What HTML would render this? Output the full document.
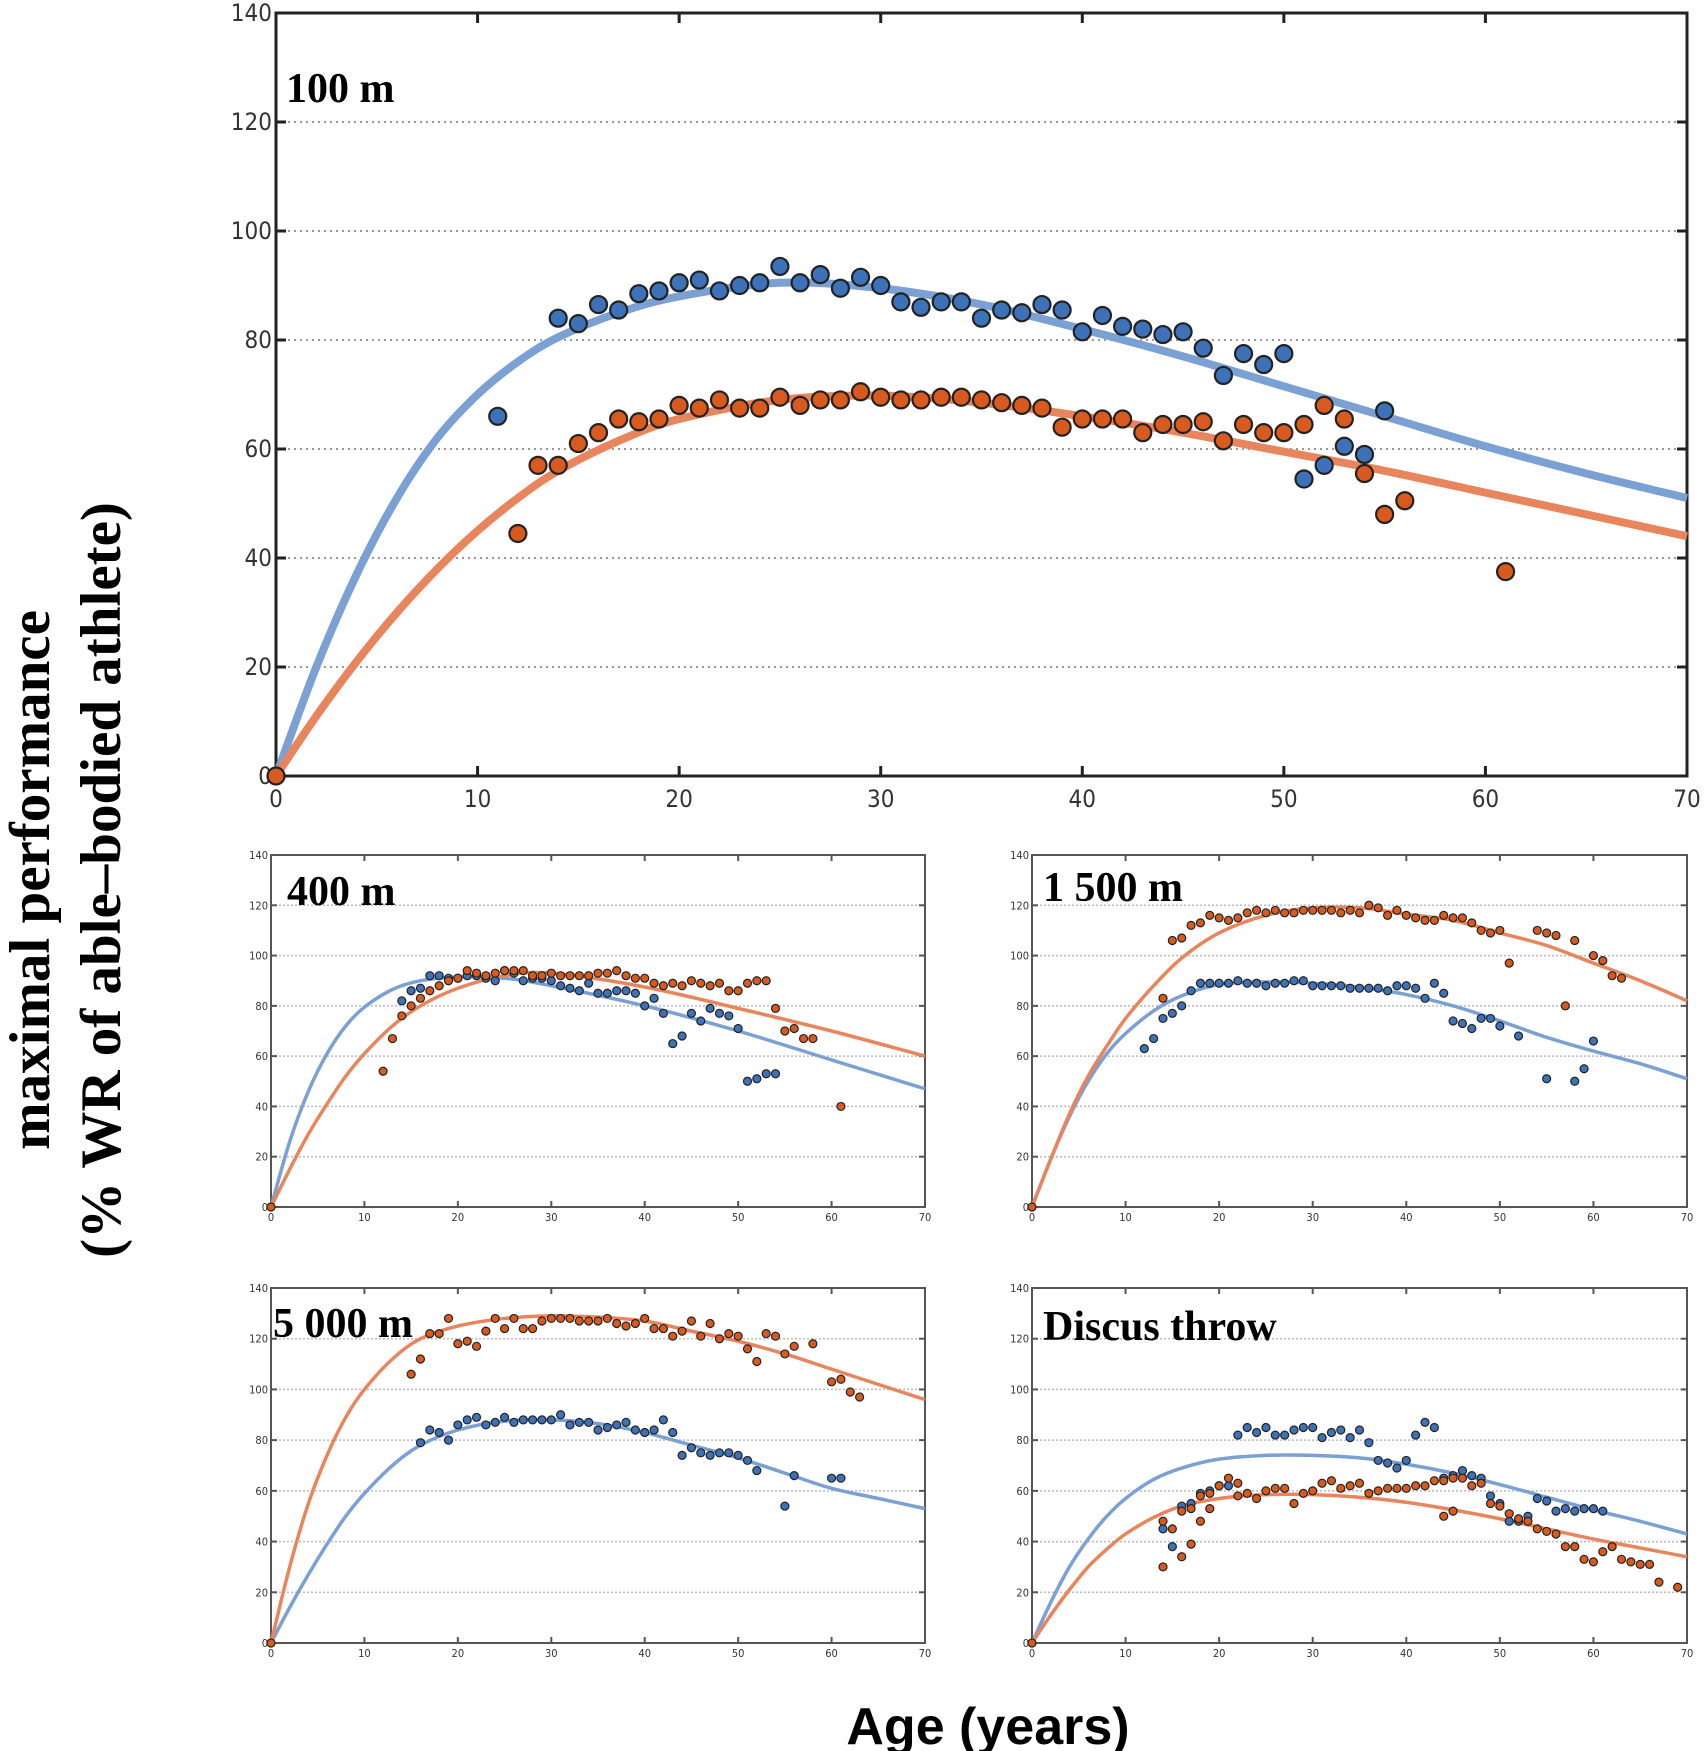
<!DOCTYPE html>
<html><head><meta charset="utf-8"><style>
body{margin:0;background:#fff;width:1705px;height:1751px;overflow:hidden}
svg{display:block}
</style></head><body>
<svg id="s" width="1705" height="1751" xmlns="http://www.w3.org/2000/svg" font-family="'DejaVu Sans Condensed','Liberation Sans',sans-serif">
<text transform="translate(49,880) rotate(-90)" text-anchor="middle" font-family="'Liberation Serif',serif" font-weight="bold" font-size="57">maximal  performance</text>
<text transform="translate(120,880) rotate(-90)" text-anchor="middle" font-family="'Liberation Serif',serif" font-weight="bold" font-size="57">(% WR of able–bodied athlete)</text>
<text x="988" y="1744" text-anchor="middle" font-family="'Liberation Sans',sans-serif" font-weight="bold" font-size="52">Age (years)</text>
</svg>
<script>
const S=document.getElementById('s');const NS='http://www.w3.org/2000/svg';
function el(t,a,txt){const e=document.createElementNS(NS,t);for(const k in a)e.setAttribute(k,a[k]);if(txt!=null)e.textContent=txt;S.appendChild(e);return e;}
function P(s){return s.trim().split(/\)\s*,?\s*\(/).map(p=>p.replace(/[()]/g,'').split(',').map(Number));}
function smooth(pts){let d='M'+pts[0][0]+','+pts[0][1];for(let i=0;i<pts.length-1;i++){const p0=pts[Math.max(0,i-1)],p1=pts[i],p2=pts[i+1],p3=pts[Math.min(pts.length-1,i+2)];const c1=[p1[0]+(p2[0]-p0[0])/6,p1[1]+(p2[1]-p0[1])/6],c2=[p2[0]-(p3[0]-p1[0])/6,p2[1]-(p3[1]-p1[1])/6];d+=`C${c1[0]},${c1[1]} ${c2[0]},${c2[1]} ${p2[0]},${p2[1]}`;}return d;}
function panel(o){const {x0,x1,y0,y1}=o;const X=v=>x0+(x1-x0)*v/70,Y=v=>y1-(y1-y0)*v/140;
 const big=o.big;
 for(let g=20;g<=120;g+=20)el('line',{x1:x0,x2:x1,y1:Y(g),y2:Y(g),stroke:big?'#999':'#bbb','stroke-width':big?2:1.5,'stroke-dasharray':big?'2,4':'2,2'});
 el('rect',{x:x0,y:y0,width:x1-x0,height:y1-y0,fill:'none',stroke:big?'#222':'#555','stroke-width':big?3:2});
 const tl=big?10:6;
 for(let t=10;t<70;t+=10){el('line',{x1:X(t),x2:X(t),y1:y1,y2:y1-tl,stroke:big?'#222':'#555','stroke-width':big?3:2});el('line',{x1:X(t),x2:X(t),y1:y0,y2:y0+tl,stroke:big?'#222':'#555','stroke-width':big?3:2});}
 for(let t=0;t<=70;t+=10)el('text',{x:X(t),y:y1+(big?31:14),'text-anchor':'middle','font-size':big?24:11,fill:'#333'},t);
 for(let g=0;g<=140;g+=20){el('line',{x1:x0,x2:x0+tl,y1:Y(g),y2:Y(g),stroke:big?'#222':'#555','stroke-width':big?3:2});el('line',{x1:x1,x2:x1-tl,y1:Y(g),y2:Y(g),stroke:big?'#222':'#555','stroke-width':big?3:2});el('text',{x:x0-(big?4:3),y:Y(g)+(big?8:4),'text-anchor':'end','font-size':big?24:11,fill:'#333'},g);}
 const cw=big?8:3.5;
 el('path',{d:smooth(P(o.bc).map(p=>[X(p[0]),Y(p[1])])),fill:'none',stroke:'#7aa0d4','stroke-width':cw});
 el('path',{d:smooth(P(o.oc).map(p=>[X(p[0]),Y(p[1])])),fill:'none',stroke:'#e8855c','stroke-width':cw});
 const r=big?8.5:4,sw=big?2.2:1.2;
 P(o.bd).forEach(p=>el('circle',{cx:X(p[0]),cy:Y(p[1]),r:r,fill:'#3e72b8',stroke:'#222','stroke-width':sw}));
 P(o.od).forEach(p=>el('circle',{cx:X(p[0]),cy:Y(p[1]),r:r,fill:'#d85a1e',stroke:'#222','stroke-width':sw}));
 el('circle',{cx:X(0),cy:Y(0),r:r,fill:'#d85a1e',stroke:'#222','stroke-width':sw});
 el('text',{x:o.tx,y:o.ty,'font-family':"'Liberation Serif',serif",'font-weight':'bold','font-size':42},o.t);
}
panel({big:1,x0:276,x1:1687,y0:13,y1:776,t:'100 m',tx:286,ty:102,
bc:'(0,0),(2,20),(4,37),(6,51),(8,62),(10,70),(12,76),(14,80.5),(17,85),(20,88),(25,90.5),(30,89.5),(35,86.5),(40,82),(45,77),(50,71.5),(55,66),(60,60.5),(65,55.5),(70,51)',
oc:'(0,0),(2,11),(4,21),(6,30),(8,38),(10,45),(12,51),(14,56),(17,61.5),(20,65.5),(25,69),(30,69.8),(35,68.5),(40,66),(45,63),(50,59.5),(55,56),(60,52),(65,48),(70,44)',
bd:'(11,66),(14,84),(15,83),(16,86.5),(17,85.5),(18,88.5),(19,89),(20,90.5),(21,91),(22,89),(23,90),(24,90.5),(25,93.5),(26,90.5),(27,92),(28,89.5),(29,91.5),(30,90),(31,87),(32,86),(33,87),(34,87),(35,84),(36,85.5),(37,85),(38,86.5),(39,85.5),(40,81.5),(41,84.5),(42,82.5),(43,82),(44,81),(45,81.5),(46,78.5),(47,73.5),(48,77.5),(49,75.5),(50,77.5),(51,54.5),(52,57),(53,60.5),(54,59),(55,67)',
od:'(12,44.5),(13,57),(14,57),(15,61),(16,63),(17,65.5),(18,65),(19,65.5),(20,68),(21,67.5),(22,69),(23,67.5),(24,67.5),(25,69.5),(26,68),(27,69),(28,69),(29,70.5),(30,69.5),(31,69),(32,69),(33,69.5),(34,69.5),(35,69),(36,68.5),(37,68),(38,67.5),(39,64),(40,65.5),(41,65.5),(42,65.5),(43,63),(44,64.5),(45,64.5),(46,65),(47,61.5),(48,64.5),(49,63),(50,63),(51,64.5),(52,68),(53,65.5),(54,55.5),(55,48),(56,50.5),(61,37.5)'});
panel({x0:271,x1:925,y0:855,y1:1207,t:'400 m',tx:287,ty:905,
bc:'(0,0),(2,26),(4,46),(6,61),(8,72),(10,79.5),(13,86.5),(16,90),(20,91.5),(25,91),(30,88),(40,80),(50,70),(60,58.5),(70,47)',
oc:'(0,0),(2,15),(4,29),(6,41),(8,52),(10,61),(13,72),(16,80),(20,87),(25,92),(30,93),(40,87.5),(50,79),(60,70),(70,60)',
bd:'(14,82),(15,86),(16,87),(17,92),(18,92),(19,91),(20,91),(21,92),(22,92),(23,91),(24,90),(25,94),(26,93),(27,90),(28,91),(29,91),(30,90),(31,88),(32,87),(33,86),(34,89),(35,85),(36,85),(37,86),(38,86),(39,85),(40,80),(41,83),(42,77),(43,65),(44,68),(45,77),(46,74),(47,79),(48,77),(49,76),(50,71),(51,50),(52,51),(53,53),(54,53)',
od:'(12,54),(13,67),(14,76),(15,80),(16,83),(17,86),(18,88),(19,90),(20,91),(21,94),(22,93),(23,92),(24,93),(25,94),(26,94),(27,94),(28,92),(29,92),(30,93),(31,92),(32,92),(33,92),(34,92),(35,93),(36,93),(37,94),(38,92),(39,91),(40,91),(41,89),(42,88),(43,89),(44,88),(45,90),(46,89),(47,88),(48,89),(49,86),(50,86),(51,89),(52,90),(53,90),(54,79),(55,70),(56,71),(57,67),(58,67),(61,40)'});
panel({x0:1032,x1:1687,y0:855,y1:1207,t:'1 500 m',tx:1043,ty:901,
bc:'(0,0),(2,19),(4,36),(6,50),(8,61),(10,69),(13,78),(16,84),(20,88.5),(25,89.5),(30,89),(35,87.5),(40,84.5),(45,80),(50,74),(55,67.5),(60,62),(65,57),(70,51)',
oc:'(0,0),(2,19),(4,37),(6,52),(8,64),(10,75),(13,88),(16,99),(20,109),(25,116),(30,119),(35,119),(40,116.5),(45,114),(50,109),(55,104),(60,97),(65,90),(70,82)',
bd:'(12,63),(13,67),(14,75),(15,77),(16,80),(17,86),(18,89),(19,89),(20,89),(21,89),(22,90),(23,89),(24,89),(25,88),(26,89),(27,89),(28,90),(29,90),(30,88),(31,88),(32,88),(33,88),(34,87),(35,87),(36,87),(37,87),(38,86),(39,88),(40,88),(41,87),(42,83),(43,89),(44,85),(45,74),(46,73),(47,71),(48,75),(49,75),(50,72),(52,68),(55,51),(58,50),(59,55),(60,66)',
od:'(14,83),(15,106),(16,107),(17,112),(18,113),(19,116),(20,115),(21,114),(22,115),(23,117),(24,118),(25,117),(26,118),(27,117),(28,117),(29,118),(30,118),(31,118),(32,118),(33,117),(34,118),(35,117),(36,120),(37,119),(38,116),(39,118),(40,116),(41,115),(42,114),(43,114),(44,116),(45,115),(46,115),(47,113),(48,110),(49,109),(50,110),(51,97),(54,110),(55,109),(56,108),(57,80),(58,106),(60,100),(61,98),(62,92),(63,91)'});
panel({x0:271,x1:925,y0:1288,y1:1643,t:'5 000 m',tx:273,ty:1337,
bc:'(0,0),(2,14),(4,27),(6,39),(8,50),(10,59),(13,70),(16,78),(20,84),(25,87.5),(30,88),(35,86.5),(40,83),(45,78),(50,73),(55,67),(60,61),(65,57),(70,53)',
oc:'(0,0),(2,30),(4,55),(6,74),(8,89),(10,100),(13,112),(16,120),(20,125),(25,128),(30,129),(35,128.5),(40,127),(45,123),(50,119),(55,114),(60,108),(65,102),(70,96)',
bd:'(16,79),(17,84),(18,83),(19,80),(20,86),(21,88),(22,89),(23,86),(24,87),(25,89),(26,87),(27,88),(28,88),(29,88),(30,88),(31,90),(32,86),(33,87),(34,87),(35,84),(36,85),(37,86),(38,87),(39,84),(40,83),(41,84),(42,88),(43,83),(44,74),(45,77),(46,75),(47,74),(48,75),(49,75),(50,74),(51,72),(52,68),(55,54),(56,66),(60,65),(61,65)',
od:'(15,106),(16,112),(17,122),(18,122),(19,128),(20,118),(21,119),(22,117),(23,123),(24,128),(25,124),(26,128),(27,124),(28,124),(29,127),(30,128),(31,128),(32,128),(33,127),(34,127),(35,127),(36,128),(37,126),(38,125),(39,126),(40,128),(41,124),(42,124),(43,121),(44,123),(45,127),(46,121),(47,126),(48,120),(49,122),(50,121),(51,116),(52,111),(53,122),(54,121),(55,114),(56,117),(58,118),(60,103),(61,104),(62,99),(63,97)'});
panel({x0:1032,x1:1687,y0:1288,y1:1643,t:'Discus throw',tx:1043,ty:1340,
bc:'(0,0),(2,16),(4,30),(6,41),(8,50),(10,57),(13,64.5),(16,69),(20,72.5),(25,74),(30,74),(35,73),(40,70.5),(45,67),(50,62.5),(55,57.5),(60,52.5),(65,48),(70,43)',
oc:'(0,0),(2,11),(4,21),(6,30),(8,37),(10,43),(13,49.5),(16,54),(20,57),(25,58.5),(30,58.5),(35,57.5),(40,55.5),(45,52.5),(50,49),(55,45),(60,41),(65,37.5),(70,34)',
bd:'(14,45),(15,38),(16,54),(17,55),(18,59),(19,60),(20,62),(21,62),(22,82),(23,85),(24,83),(25,85),(26,82),(27,82),(28,84),(29,85),(30,85),(31,81),(32,83),(33,84),(34,81),(35,84),(36,79),(37,72),(38,71),(39,69),(40,72),(41,82),(42,87),(43,85),(44,65),(45,66),(46,68),(47,66),(48,65),(49,58),(50,55),(51,48),(52,48),(53,50),(54,57),(55,56),(56,52),(57,53),(58,52),(59,53),(60,53),(61,52)',
od:'(14,30),(14,48),(15,45),(16,52),(16,34),(17,39),(17,53),(18,48),(18,58),(19,53),(19,59),(20,62),(21,65),(22,63),(22,58),(23,59),(24,57),(25,60),(26,61),(27,61),(28,55),(29,59),(30,60),(31,63),(32,64),(33,61),(34,62),(35,63),(36,59),(37,60),(38,61),(39,61),(40,61),(41,62),(42,62),(43,64),(44,64),(45,65),(46,65),(47,62),(48,63),(49,55),(50,54),(51,51),(52,49),(53,48),(54,45),(55,44),(56,43),(57,38),(58,38),(59,33),(60,32),(61,36),(62,38),(63,33),(64,32),(65,31),(66,31),(67,24),(69,22),(44,50),(45,52)'});
</script>
</body></html>
